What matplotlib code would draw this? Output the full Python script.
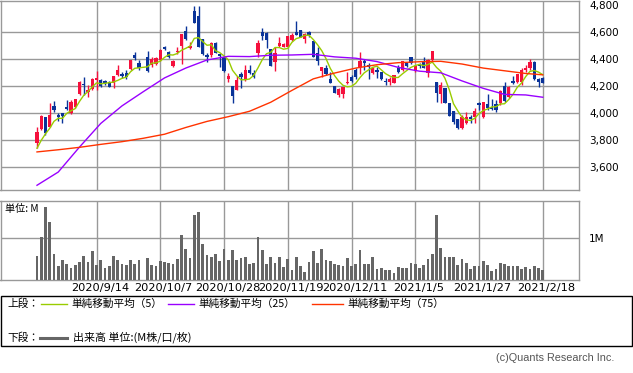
import numpy as np
import pandas as pd
import matplotlib
matplotlib.use("Agg")
import matplotlib.pyplot as plt
from matplotlib.patches import Rectangle
from matplotlib.lines import Line2D
from matplotlib.transforms import ScaledTranslation

nan = np.nan
CJK = ['Noto Sans CJK JP', 'DejaVu Sans']

# 日足 (2020/8/25 - 2021/2/18), index 25 = 2020/10/1 (売買停止)
opens = [3783, 3884, 3970, 3901, 4054, 3988, 4000, 4044, 4000, 4049,
         4143, 4217, 4158, 4178, 4247, 4247, 4240, 4235, 4222, 4284,
         4291, 4301, 4328, 4432, 4370, nan, 4415, 4358, 4365, 4395,
         4491, 4457, 4353, 4452, 4499, 4610, 4481, 4758, 4723, 4548,
         4432, 4432, 4523, 4440, 4415, 4257, 4202, 4173, 4291, 4247,
         4321, 4296, 4449, 4600, 4593, 4474, 4383, 4499, 4494, 4494,
         4543, 4600, 4617, 4548, 4600, 4538, 4449, 4314, 4338, 4254,
         4202, 4136, 4143, 4222, 4272, 4321, 4346, 4388, 4356, 4301,
         4321, 4309, 4240, 4235, 4227, 4338, 4321, 4370, 4415, 4314,
         4365, 4383, 4301, 4395, 4235, 4141, 4185, 4079, 4017, 3956,
         3889, 3926, 3975, 3975, 4079, 3970, 4067, 4049, 4067, 4074,
         4202, 4123, 4237, 4235, 4235, 4321, 4333, 4383, 4252, 4264]
highs = [3901, 3988, 3975, 4074, 4091, 4005, 4000, 4099, 4099, 4106,
         4240, 4272, 4210, 4264, 4314, 4252, 4247, 4240, 4277, 4356,
         4309, 4321, 4395, 4452, 4395, nan, 4464, 4420, 4420, 4474,
         4499, 4464, 4395, 4494, 4588, 4647, 4531, 4795, 4795, 4548,
         4444, 4531, 4531, 4440, 4415, 4296, 4202, 4277, 4309, 4358,
         4358, 4321, 4543, 4630, 4605, 4474, 4494, 4563, 4519, 4573,
         4593, 4684, 4617, 4593, 4610, 4538, 4494, 4346, 4358, 4309,
         4202, 4185, 4198, 4309, 4284, 4333, 4457, 4400, 4370, 4346,
         4346, 4309, 4259, 4272, 4284, 4358, 4388, 4383, 4415, 4351,
         4370, 4420, 4400, 4462, 4235, 4235, 4190, 4079, 4017, 3956,
         3988, 4012, 3988, 4037, 4086, 4086, 4143, 4106, 4099, 4173,
         4235, 4202, 4277, 4289, 4333, 4358, 4400, 4388, 4259, 4272]
lows = [3741, 3877, 3840, 3896, 4012, 3946, 3926, 4025, 3995, 4037,
        4136, 4136, 4123, 4173, 4173, 4193, 4210, 4193, 4185, 4277,
        4259, 4252, 4321, 4395, 4321, nan, 4309, 4346, 4358, 4390,
        4469, 4407, 4346, 4440, 4363, 4543, 4474, 4667, 4489, 4432,
        4383, 4420, 4444, 4346, 4309, 4235, 4074, 4173, 4185, 4240,
        4291, 4259, 4420, 4543, 4486, 4351, 4316, 4494, 4489, 4494,
        4538, 4580, 4563, 4519, 4568, 4415, 4358, 4267, 4284, 4222,
        4148, 4123, 4116, 4217, 4230, 4254, 4291, 4321, 4254, 4291,
        4259, 4247, 4210, 4210, 4222, 4301, 4316, 4346, 4365, 4309,
        4333, 4333, 4272, 4383, 4086, 4074, 4074, 3980, 3921, 3882,
        3882, 3921, 3926, 3931, 4025, 3963, 4025, 4025, 4012, 4062,
        4086, 4116, 4217, 4222, 4210, 4309, 4321, 4247, 4198, 4222]
closes = [3859, 3980, 3852, 3988, 4025, 3970, 3980, 4035, 4084, 4106,
          4235, 4207, 4173, 4254, 4259, 4202, 4222, 4198, 4277, 4321,
          4277, 4267, 4395, 4407, 4338, nan, 4316, 4400, 4407, 4469,
          4479, 4415, 4388, 4464, 4588, 4551, 4499, 4672, 4494, 4440,
          4415, 4519, 4449, 4425, 4316, 4277, 4128, 4247, 4272, 4321,
          4301, 4267, 4523, 4573, 4543, 4353, 4444, 4523, 4511, 4573,
          4580, 4580, 4568, 4585, 4580, 4420, 4388, 4346, 4291, 4222,
          4153, 4178, 4193, 4235, 4240, 4267, 4388, 4370, 4341, 4338,
          4309, 4252, 4230, 4252, 4284, 4309, 4388, 4351, 4370, 4351,
          4353, 4338, 4395, 4462, 4153, 4210, 4074, 3980, 3938, 3889,
          3975, 3975, 3958, 4017, 4064, 4086, 4037, 4032, 4025, 4165,
          4094, 4193, 4222, 4289, 4321, 4338, 4383, 4254, 4230, 4227]
# 出来高 (M)
volumes = [0.57, 1.01, 1.73, 1.375, 0.62, 0.34, 0.48, 0.38, 0.29, 0.36,
           0.43, 0.57, 0.43, 0.69, 0.36, 0.48, 0.29, 0.34, 0.57, 0.48,
           0.38, 0.36, 0.48, 0.38, 0.48, nan, 0.52, 0.36, 0.34, 0.45,
           0.43, 0.41, 0.38, 0.50, 1.06, 0.73, 0.52, 1.53, 1.61, 0.85,
           0.59, 0.55, 0.62, 0.45, 0.73, 0.48, 0.71, 0.48, 0.52, 0.55,
           0.38, 0.41, 1.02, 0.71, 0.38, 0.55, 0.41, 0.55, 0.31, 0.50,
           0.24, 0.55, 0.34, 0.20, 0.43, 0.69, 0.41, 0.73, 0.48, 0.45,
           0.38, 0.36, 0.34, 0.52, 0.34, 0.38, 0.71, 0.38, 0.38, 0.55,
           0.27, 0.29, 0.24, 0.24, 0.17, 0.31, 0.29, 0.29, 0.41, 0.38,
           0.29, 0.36, 0.50, 0.62, 1.53, 0.76, 0.55, 0.55, 0.55, 0.36,
           0.50, 0.41, 0.27, 0.34, 0.34, 0.45, 0.36, 0.22, 0.27, 0.41,
           0.38, 0.34, 0.34, 0.34, 0.27, 0.31, 0.27, 0.34, 0.29, 0.24]

# 移動平均 (25/75 は画像から読み取り)
ma5_head = [3741, 3800, 3848, 3889]
ma_idx = [0, 5, 10, 15, 20, 25, 30, 35, 40, 45, 50, 55, 60, 65, 70, 75,
          80, 85, 90, 95, 100, 105, 110, 115, 119]
ma25 = [3467, 3565, 3750, 3925, 4055, 4160, 4262, 4335, 4395, 4422, 4420,
        4430, 4432, 4437, 4418, 4408, 4383, 4340, 4312, 4300, 4240, 4185,
        4140, 4136, 4119]
ma75 = [3714, 3730, 3748, 3770, 3790, 3815, 3845, 3895, 3940, 3975, 4015,
        4082, 4170, 4255, 4298, 4335, 4360, 4375, 4382, 4385, 4365, 4335,
        4315, 4295, 4285]

tick_idx = [14, 29, 44, 59, 74, 89, 104, 119]
tick_labels = ['2020/9/14', '2020/10/7', '2020/10/28', '2020/11/19',
               '2020/12/11', '2021/1/5', '2021/1/27', '2021/2/18']
price_ticks = [3600, 3800, 4000, 4200, 4400, 4600, 4800]

RED = '#f5103c'
BLUE = '#0a3399'
GRID = '#999999'
C_MA5 = '#99cc00'
C_MA25 = '#9900ff'
C_MA75 = '#ff3300'

W, H = 633, 373


def rect(x0, y0, x1, y1):
    return [x0 / W, 1 - y1 / H, (x1 - x0) / W, (y1 - y0) / H]


df = pd.DataFrame({'open': opens, 'high': highs, 'low': lows,
                   'close': closes, 'vol': volumes})
df['x'] = np.arange(len(df))
valid = df.dropna().copy()
ma5 = valid['close'].rolling(5).mean().to_numpy()
ma5[:4] = ma5_head

fig = plt.figure(figsize=(6.33, 3.73), dpi=100)
ax = fig.add_axes(rect(0.5, 0.7, 579, 190))
axv = fig.add_axes(rect(0.5, 201, 579, 280))

xlim = (-(37 - 0.5) / 4.25, (579 - 37) / 4.25)

# ローソク足
up = valid['close'] >= valid['open']
colors = np.where(up, RED, BLUE)
ax.vlines(valid['x'], valid['low'], valid['high'], colors=colors, lw=1, zorder=2)
body_bot = np.minimum(valid['open'], valid['close'])
body_h = np.maximum((valid['close'] - valid['open']).abs(), 4)
ax.bar(valid['x'], body_h, bottom=body_bot, width=0.72, color=colors, lw=0, zorder=3)

ax.plot(valid['x'], ma5, color=C_MA5, lw=1, zorder=4)
ax.plot(ma_idx, ma25, color=C_MA25, lw=1, zorder=4)
ax.plot(ma_idx, ma75, color=C_MA75, lw=1, zorder=4)

ax.set_xlim(*xlim)
ax.set_ylim(3432, 4834)
ax.set_xticks(tick_idx)
ax.set_xticklabels([])
ax.set_yticks(price_ticks)
ax.set_yticklabels([f'{v:,}' for v in price_ticks])
ax.yaxis.tick_right()
ax.tick_params(length=0)
ax.tick_params(axis='y', pad=7.2, labelsize=7.5)
ax.grid(True, color=GRID, lw=1)
ax.get_ygridlines()[-1].set_visible(False)
ax.set_axisbelow(True)

# 出来高
axv.bar(valid['x'], valid['vol'], width=0.65, color='#666666', lw=0, zorder=3)
axv.set_xlim(*xlim)
axv.set_ylim(0, 1.868)
axv.set_yticks([1])
axv.set_yticklabels(['1M'])
axv.yaxis.tick_right()
axv.set_xticks(tick_idx)
axv.set_xticklabels(tick_labels, fontsize=8.2)
axv.tick_params(length=0)
axv.tick_params(axis='y', pad=7.2, labelsize=7.5)
axv.tick_params(axis='x', pad=2.5)
shift = ScaledTranslation(3.5 / 100, 0, fig.dpi_scale_trans)
for lab in axv.get_xticklabels():
    lab.set_transform(lab.get_transform() + shift)
axv.grid(True, color=GRID, lw=1)
axv.set_axisbelow(True)
axv.text(5 / 579, 1 - 8 / 79, '単位: M', transform=axv.transAxes,
         family=CJK, fontsize=7.3, va='center', ha='left')

for a in (ax, axv):
    for s in a.spines.values():
        s.set_color(GRID)
        s.set_linewidth(1)

# 凡例
fig.add_artist(Rectangle((0.5 / W, 1 - 346 / H), 631.5 / W, 50.5 / H,
                         transform=fig.transFigure, fill=False, ec='black', lw=1))


def fx(px):
    return px / W


def fy(py):
    return 1 - py / H


y1, y2 = 303.5, 337.5
fig.text(fx(7), fy(y1), '上段：', family=CJK, fontsize=7.7, va='center')
for x0, x1, col, lab in [(41, 67, C_MA5, '単純移動平均（5）'),
                         (168, 194, C_MA25, '単純移動平均（25）'),
                         (312, 343, C_MA75, '単純移動平均（75）')]:
    fig.add_artist(Line2D([fx(x0), fx(x1)], [fy(y1), fy(y1)], color=col, lw=1,
                          transform=fig.transFigure))
    fig.text(fx(x1 + 4), fy(y1), lab, family=CJK, fontsize=7.7, va='center')

fig.text(fx(7), fy(y2), '下段：', family=CJK, fontsize=7.7, va='center')
fig.add_artist(Line2D([fx(40), fx(67)], [fy(y2), fy(y2)], color='#666666', lw=2.2,
                      transform=fig.transFigure))
fig.text(fx(73), fy(y2), '出来高 単位:(M株/口/枚)', family=CJK, fontsize=7.9, va='center')

fig.text(fx(614), fy(358), '(c)Quants Research Inc.', family=['Liberation Sans'],
         fontsize=7.8, color='#555555', ha='right', va='center')

plt.savefig('out.png', dpi=100)
plt.close()
